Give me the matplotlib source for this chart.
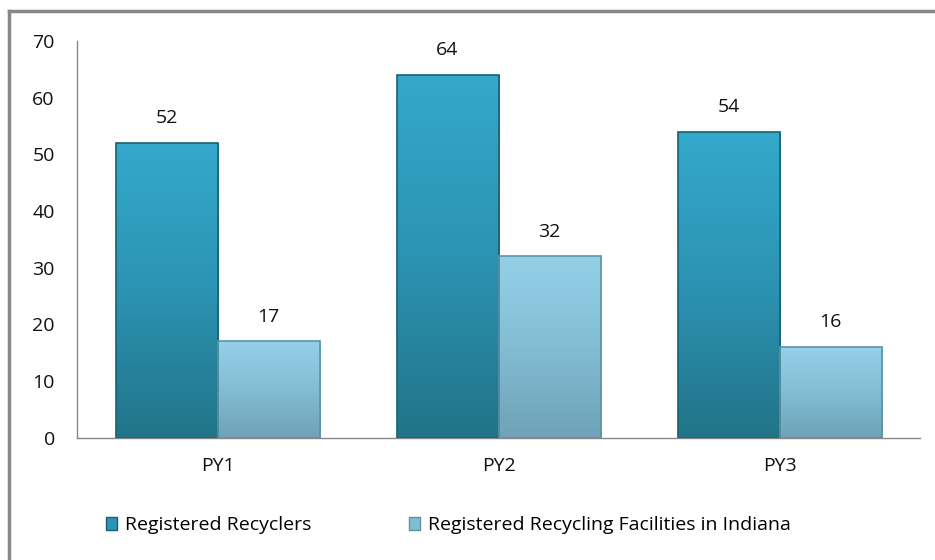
import numpy as np
import matplotlib.pyplot as plt
from matplotlib.lines import Line2D
from matplotlib.colors import LinearSegmentedColormap

plt.rcParams['font.family'] = ['Open Sans', 'DejaVu Sans']

categories = ['PY1', 'PY2', 'PY3']
recyclers = [52, 64, 54]
facilities = [17, 32, 16]
series_names = ['Registered Recyclers', 'Registered Recycling Facilities in Indiana']

dark_cmap = LinearSegmentedColormap.from_list('dk', ['#217488', '#2c93b3', '#34a9cb'])
light_cmap = LinearSegmentedColormap.from_list('lt', ['#6fa2b6', '#82bdd4', '#94d0e8'])

fig = plt.figure(figsize=(9.35, 5.6), dpi=100)
ax = fig.add_axes([0.0824, 0.218, 0.9016, 0.709])

x = np.arange(len(categories))
w = 0.363
grad = np.linspace(0, 1, 256).reshape(-1, 1)


def grad_bars(xs, vals, cmap, edge):
    bars = ax.bar(xs, vals, w, color='none', edgecolor=edge, linewidth=1.2, zorder=3)
    for b in bars:
        bx, by = b.get_x(), b.get_y()
        bw, bh = b.get_width(), b.get_height()
        im = ax.imshow(grad, cmap=cmap, origin='lower', aspect='auto',
                       extent=[bx, bx + bw, by, by + bh], zorder=2)
        im.set_clip_path(b)
    return bars


b1 = grad_bars(x - w / 2, recyclers, dark_cmap, '#1b5f70')
b2 = grad_bars(x + w / 2, facilities, light_cmap, '#5e93a6')

for bars, vals in [(b1, recyclers), (b2, facilities)]:
    for b, v in zip(bars, vals):
        ax.text(b.get_x() + b.get_width() / 2, v + 2.8, str(v), ha='center',
                va='bottom', fontsize=14, color='#111111')

ax.set_xlim(-0.5, 2.5)
ax.set_ylim(0, 70)
ax.set_yticks(range(0, 71, 10))
ax.set_xticks(x)
ax.set_xticklabels(categories)
ax.tick_params(axis='both', length=0, labelsize=14, colors='#111111')
ax.tick_params(axis='y', pad=16)
ax.tick_params(axis='x', pad=14)
for s in ['top', 'right']:
    ax.spines[s].set_visible(False)
for s in ['left', 'bottom']:
    ax.spines[s].set_color('#888888')
    ax.spines[s].set_linewidth(1)

handles = [plt.Rectangle((0, 0), 1, 1, facecolor='#2c93b3', edgecolor='#1b5f70'),
           plt.Rectangle((0, 0), 1, 1, facecolor='#82bdd4', edgecolor='#5e93a6')]
fig.legend(handles, series_names, loc='center left', bbox_to_anchor=(0.113, 0.062),
           ncol=2, frameon=False, fontsize=14, handlelength=0.6, handleheight=0.6,
           handletextpad=0.4, columnspacing=5.0, borderaxespad=0, borderpad=0)

# chart frame
fig.add_artist(Line2D([0.0096, 1.0], [0.98, 0.98], color='#888888', linewidth=2.5,
                      transform=fig.transFigure))
fig.add_artist(Line2D([0.0096, 0.0096], [0.0, 0.98], color='#888888', linewidth=2.5,
                      transform=fig.transFigure))

fig.savefig('out.png', dpi=100)
